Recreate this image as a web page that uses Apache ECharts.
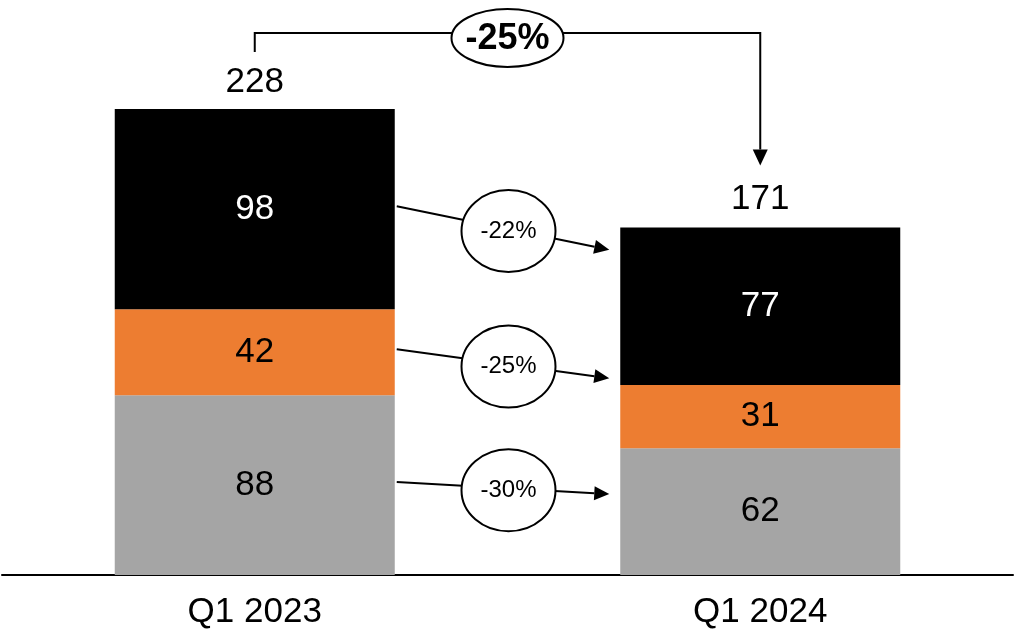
<!DOCTYPE html>
<html>
<head>
<meta charset="utf-8">
<script src="https://cdn.jsdelivr.net/npm/echarts@6/dist/echarts.min.js"></script>
<style>
html,body{margin:0;padding:0;background:#fff;}
#chart{width:1015px;height:635px;}
</style>
</head>
<body>
<div id="chart"></div>
<script>
// ---- data ----
const categories = ['Q1 2023', 'Q1 2024'];
const greyValues = [88, 62];
const orangeValues = [42, 31];
const blackValues = [98, 77];
const totals = [228, 171]; // totals as printed (segments are rounded)
const segmentChangeLabels = ['-22%', '-25%', '-30%']; // black, orange, grey
const totalChangeLabel = '-25%';

const FONT = "'Liberation Sans', Arial, Helvetica, sans-serif";
const BAR_W = 280;

const chart = echarts.init(document.getElementById('chart'), null, {renderer: 'canvas'});

const segLabel = (color) => ({
  show: true, position: 'inside', color: color,
  fontFamily: FONT, fontSize: 35
});

chart.setOption({
  animation: false,
  backgroundColor: '#ffffff',
  grid: {left: 2, right: 2, top: 109, bottom: 60, containLabel: false},
  xAxis: {
    type: 'category', data: categories, boundaryGap: true,
    axisLine: {show: true, lineStyle: {color: '#000', width: 2}},
    axisTick: {show: false},
    axisLabel: {color: '#000', fontFamily: FONT, fontSize: 35, margin: 20}
  },
  yAxis: {
    type: 'value', min: 0, max: Math.max(...totals),
    show: false, splitLine: {show: false}
  },
  series: [
    {name: 'Grey', type: 'bar', stack: 's', barWidth: BAR_W, data: greyValues,
     itemStyle: {color: '#A5A5A5'}, label: segLabel('#000')},
    {name: 'Orange', type: 'bar', stack: 's', barWidth: BAR_W, data: orangeValues,
     itemStyle: {color: '#ED7D31'}, label: segLabel('#000')},
    {name: 'Black', type: 'bar', stack: 's', barWidth: BAR_W, data: blackValues,
     itemStyle: {color: '#000000'}, label: segLabel('#fff')},
    {name: 'Total', type: 'bar', barWidth: BAR_W, barGap: '-100%', data: totals, silent: true,
     itemStyle: {color: 'rgba(0,0,0,0)'}, z: 1,
     label: {show: true, position: 'top', distance: 9, color: '#000', fontFamily: FONT, fontSize: 35}}
  ]
});

// ---- annotations, positioned through the axes ----
function px(i, v) { return chart.convertToPixel({seriesIndex: 0}, [i, v]); }

function arrowHead(xTip, yTip, dx, dy, len, w) {
  const L = Math.hypot(dx, dy); const ux = dx / L, uy = dy / L;
  const bx = xTip - ux * len, by = yTip - uy * len;
  return {
    type: 'polygon', z: 10,
    shape: {points: [[xTip, yTip], [bx - uy * w / 2, by + ux * w / 2], [bx + uy * w / 2, by - ux * w / 2]]},
    style: {fill: '#000'}
  };
}

const g = [];
const c0 = px(0, 0), c1 = px(1, 0);
const bar1Right = c0[0] + BAR_W / 2, bar2Left = c1[0] - BAR_W / 2;
const stackTop = i => greyValues[i] + orangeValues[i] + blackValues[i];

// segments: [lower, upper] for bar i, for black, orange, grey
const segs = [
  i => [greyValues[i] + orangeValues[i], stackTop(i)],
  i => [greyValues[i], greyValues[i] + orangeValues[i]],
  i => [0, greyValues[i]]
];
segs.forEach((seg, k) => {
  const s0 = seg(0), s1 = seg(1);
  const mid1 = (px(0, s0[0])[1] + px(0, s0[1])[1]) / 2;
  const mid2 = (px(1, s1[0])[1] + px(1, s1[1])[1]) / 2;
  const x1 = bar1Right + 2, y1 = mid1 - 3;
  const x2 = bar2Left - 11, y2 = y1 + 0.45 * (mid2 - mid1);
  const headLen = 15, headW = 14;
  const dx = x2 - x1, dy = y2 - y1, L = Math.hypot(dx, dy);
  g.push({type: 'line', z: 5, shape: {x1: x1, y1: y1, x2: x2 - dx / L * headLen, y2: y2 - dy / L * headLen},
          style: {stroke: '#000', lineWidth: 2}});
  g.push(arrowHead(x2, y2, dx, dy, headLen, headW));
  const cx = (bar1Right + bar2Left) / 2 + 1;
  const cy = y1 + (cx - x1) / dx * dy + 2;
  g.push({type: 'ellipse', z: 6, shape: {cx: cx, cy: cy, rx: 47, ry: 41},
          style: {fill: '#fff', stroke: '#000', lineWidth: 2}});
  g.push({type: 'text', z: 7, x: cx, y: cy,
          style: {text: segmentChangeLabels[k], fill: '#000', font: '24px ' + FONT,
                  textAlign: 'center', textVerticalAlign: 'middle'}});
});

// top bracket
const t0 = px(0, totals[0]), t1 = px(1, totals[1]);
const yH = t0[1] - 76;
const leftBottom = t0[1] - 57;
const tipY = t1[1] - 60;
const headLenT = 16, headWT = 15;
g.push({type: 'polyline', z: 5,
        shape: {points: [[t0[0], leftBottom], [t0[0], yH], [t1[0], yH], [t1[0], tipY - headLenT]]},
        style: {stroke: '#000', lineWidth: 2, fill: null}});
g.push(arrowHead(t1[0], tipY, 0, 1, headLenT, headWT));
const tcx = (t0[0] + t1[0]) / 2, tcy = yH + 5;
g.push({type: 'ellipse', z: 6, shape: {cx: tcx, cy: tcy, rx: 56, ry: 29},
        style: {fill: '#fff', stroke: '#000', lineWidth: 2}});
g.push({type: 'text', z: 7, x: tcx, y: tcy + 1,
        style: {text: totalChangeLabel, fill: '#000', font: 'bold 36px ' + FONT,
                textAlign: 'center', textVerticalAlign: 'middle'}});

chart.setOption({graphic: {elements: g}});
</script>
</body>
</html>
